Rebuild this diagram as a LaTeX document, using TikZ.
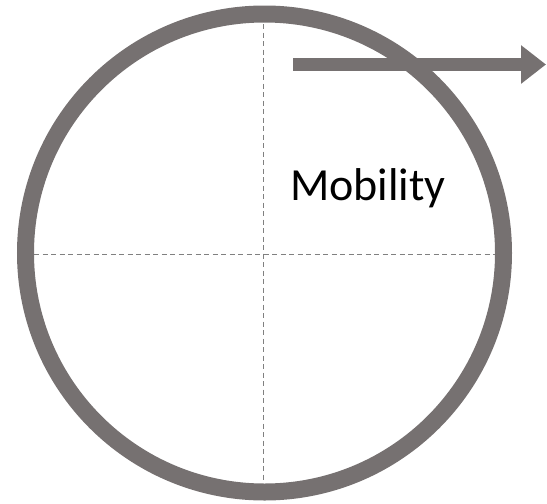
\documentclass[tikz,border=0pt]{standalone}
\usepackage{fontspec}
\setmainfont{Carlito}
\usetikzlibrary{arrows.meta}
\definecolor{ringgray}{HTML}{767171}
\definecolor{dashgray}{HTML}{808080}
\tikzset{
  ring/.style={draw=ringgray, line width=17pt},
  guide/.style={draw=dashgray, line width=1pt, dash pattern=on 5pt off 3.5pt},
  bigarrow/.style={draw=ringgray, fill=ringgray, line width=13pt, -{Triangle[length=25pt,width=37pt]}},
  label/.style={font=\fontsize{46pt}{50pt}\selectfont, text=black, inner sep=0pt}
}
\begin{document}
\begin{tikzpicture}[x=1pt,y=1pt]
\useasboundingbox (0,0) rectangle (547,-504);
\coordinate (c) at (264.5,-253);
\coordinate (vt) at (263,-24);
\coordinate (vb) at (263,-482);
\coordinate (hl) at (34,-254);
\coordinate (hr) at (495,-254);
\draw[guide] (vt) -- (vb);
\draw[guide] (hl) -- (hr);
\draw[ring] (c) circle[radius=239];
\coordinate (as) at (293,-64.5);
\coordinate (ae) at (546,-64.5);
\draw[bigarrow] (as) -- (ae);
\node[label, anchor=base] (mob) at (368,-200) {Mobility};
\end{tikzpicture}
\end{document}
